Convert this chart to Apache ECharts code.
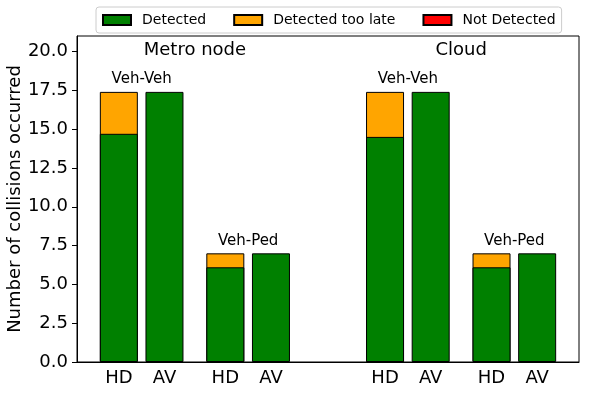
<!DOCTYPE html>
<html>
<head>
<meta charset="utf-8">
<script src="https://cdn.jsdelivr.net/npm/echarts@6/dist/echarts.min.js"></script>
<style>
  html, body { margin: 0; padding: 0; background: #fff; }
  #chart { width: 589px; height: 394px; }
</style>
</head>
<body>
<div id="chart"></div>
<script>
// bar positions along the x axis (two groups, each with two pairs)
const positions   = [0, 0.3, 0.7, 1.0, 1.75, 2.05, 2.45, 2.75];
const barLabels   = ['HD', 'AV', 'HD', 'AV', 'HD', 'AV', 'HD', 'AV'];
const detected    = [14.7, 17.4, 6.1, 7.0, 14.5, 17.4, 6.1, 7.0];
const tooLate     = [2.7, 0, 0.9, 0, 2.9, 0, 0.9, 0];
const notDetected = [0, 0, 0, 0, 0, 0, 0, 0];

// pairs of bars (HD + AV) with their scenario name
const pairNames = ['Veh-Veh', 'Veh-Ped', 'Veh-Veh', 'Veh-Ped'];
const pairBars  = [[0, 1], [2, 3], [4, 5], [6, 7]];

// groups of pairs
const groupNames = ['Metro node', 'Cloud'];
const groupBars  = [[0, 1, 2, 3], [4, 5, 6, 7]];

const yTicks = [0, 2.5, 5, 7.5, 10, 12.5, 15, 17.5, 20];

const font = 'DejaVu Sans';
const total = i => detected[i] + tooLate[i] + notDetected[i];

const pairData = pairNames.map((n, k) => {
  const [a, b] = pairBars[k];
  return [(positions[a] + positions[b]) / 2, Math.max(total(a), total(b)), n];
});
const groupData = groupNames.map((n, k) => {
  const idx = groupBars[k];
  const cx = idx.reduce((s, i) => s + positions[i], 0) / idx.length;
  return [cx, 20.05, n];
});

// overlapping bars: cumulative tops, drawn back to front
const cumLate = positions.map((p, i) => [p, tooLate[i] ? detected[i] + tooLate[i] : '-']);
const cumNot  = positions.map((p, i) => [p, notDetected[i] ? total(i) : '-']);
const detBars = positions.map((p, i) => [p, detected[i]]);

const barStyle = color => ({ color, borderColor: '#000', borderWidth: 1 });
const barCommon = { type: 'bar', barWidth: 38, barGap: '-100%' };
const textMark = { type: 'scatter', symbolSize: 0, silent: true, itemStyle: { opacity: 1, color: 'transparent' } };

const chart = echarts.init(document.getElementById('chart'), null, { renderer: 'canvas' });
chart.setOption({
  animation: false,
  textStyle: { fontFamily: font },
  legend: {
    data: ['Detected', 'Detected too late', 'Not Detected'],
    top: 7, left: 96,
    itemWidth: 28, itemHeight: 10, itemGap: 27,
    icon: 'rect',
    padding: [6, 6],
    borderColor: '#ccc', borderWidth: 1, borderRadius: 3,
    textStyle: { fontFamily: font, fontSize: 14, color: '#000', padding: [0, 0, 0, 6] }
  },
  grid: {
    left: 77, right: 10, top: 36, bottom: 32,
    outerBoundsMode: 'none',
    show: true, borderColor: '#000', borderWidth: 1
  },
  xAxis: {
    type: 'value', min: -0.275, max: 3.025,
    splitLine: { show: false },
    axisLine: { show: true, onZero: false, lineStyle: { color: '#000' } },
    axisTick: { show: false },
    axisLabel: {
      customValues: positions,
      fontFamily: font, fontSize: 18, color: '#000', margin: 7,
      formatter: v => {
        let best = 0;
        positions.forEach((p, i) => { if (Math.abs(p - v) < Math.abs(positions[best] - v)) best = i; });
        return barLabels[best];
      }
    }
  },
  yAxis: {
    type: 'value', min: 0, max: 21,
    name: 'Number of collisions occurred',
    nameLocation: 'middle', nameGap: 53, nameMoveOverlap: false,
    nameTextStyle: { fontFamily: font, fontSize: 18, color: '#000' },
    splitLine: { show: false },
    axisLine: { show: true, onZero: false, lineStyle: { color: '#000' } },
    axisTick: { show: true, customValues: yTicks, length: 5, lineStyle: { color: '#000' } },
    axisLabel: {
      customValues: yTicks,
      fontFamily: font, fontSize: 18, color: '#000', margin: 9,
      formatter: v => v.toFixed(1)
    }
  },
  series: [
    Object.assign({ name: 'Not Detected', itemStyle: barStyle('#FF0000'), data: cumNot }, barCommon),
    Object.assign({ name: 'Detected too late', itemStyle: barStyle('#FFA500'), data: cumLate }, barCommon),
    Object.assign({ name: 'Detected', itemStyle: barStyle('#008000'), data: detBars }, barCommon),
    Object.assign({
      label: { show: true, position: 'top', distance: 5, formatter: p => p.data[2], fontFamily: font, fontSize: 15, color: '#000' },
      data: pairData
    }, textMark),
    Object.assign({
      label: { show: true, position: 'inside', formatter: p => p.data[2], fontFamily: font, fontSize: 18, color: '#000' },
      data: groupData
    }, textMark)
  ]
});
</script>
</body>
</html>
